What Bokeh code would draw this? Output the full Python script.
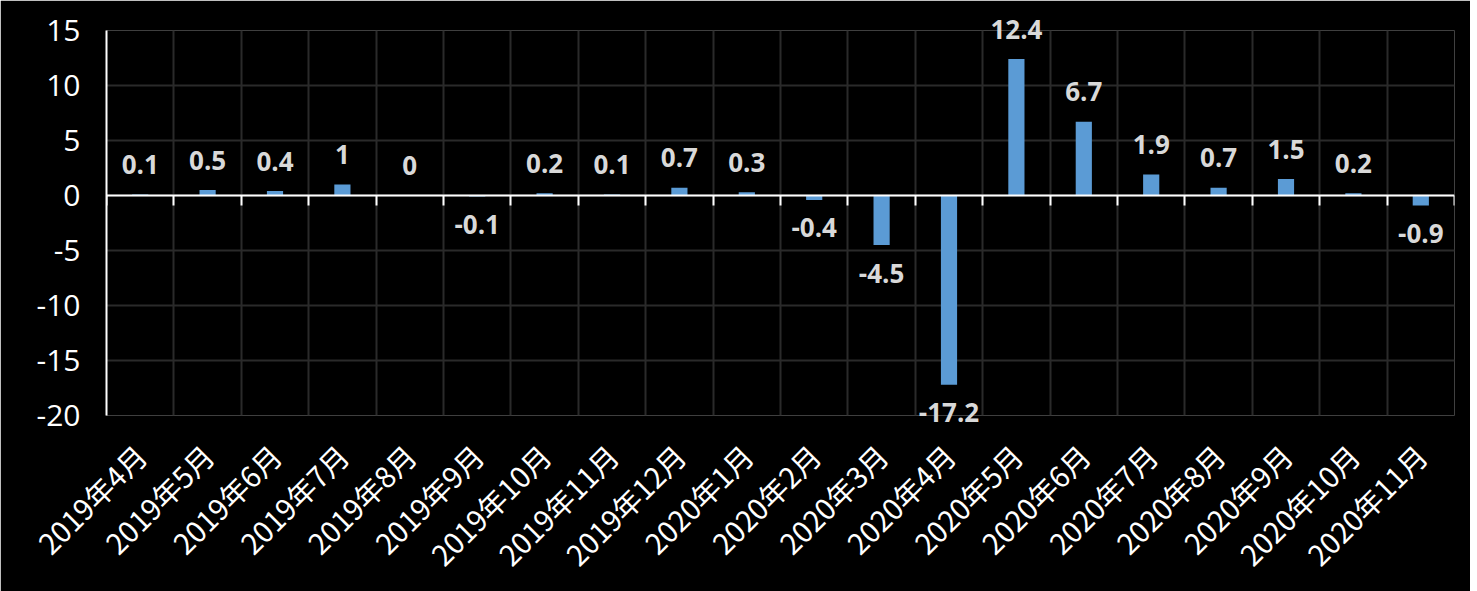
import numpy as np
from bokeh.plotting import figure
from bokeh.models import ColumnDataSource, Range1d, FixedTicker, LinearAxis, CustomJSTickFormatter
from bokeh.core.properties import value
from bokeh.embed import file_html
from bokeh.resources import INLINE

categories = ["2019年4月", "2019年5月", "2019年6月", "2019年7月", "2019年8月",
              "2019年9月", "2019年10月", "2019年11月", "2019年12月", "2020年1月",
              "2020年2月", "2020年3月", "2020年4月", "2020年5月", "2020年6月",
              "2020年7月", "2020年8月", "2020年9月", "2020年10月", "2020年11月"]
values = [0.1, 0.5, 0.4, 1, 0, -0.1, 0.2, 0.1, 0.7, 0.3,
          -0.4, -4.5, -17.2, 12.4, 6.7, 1.9, 0.7, 1.5, 0.2, -0.9]
y_ticks = [-20, -15, -10, -5, 0, 5, 10, 15]
y_tick_labels = ["-20", "-15", "-10", "-5", "0", "5", "10", "15"]

n = len(categories)
idx = list(range(n))
boundaries = [i - 0.5 for i in range(n + 1)]
labels = [f"{v:g}" for v in values]

p = figure(frame_width=1348, frame_height=385,
           x_range=Range1d(-0.5, n - 0.5), y_range=Range1d(min(y_ticks), max(y_ticks)),
           output_backend="svg", toolbar_location=None,
           min_border_left=106, min_border_right=16, min_border_top=30, min_border_bottom=168,
           background_fill_color="black", border_fill_color="black", outline_line_color=None)

# grids
p.xgrid.ticker = FixedTicker(ticks=boundaries)
p.ygrid.ticker = FixedTicker(ticks=y_ticks)
for g in (p.xgrid, p.ygrid):
    g.grid_line_color = "#2a2a2a"
    g.grid_line_width = 2

# bars
src = ColumnDataSource(dict(x=idx, top=values, text=labels))
p.vbar(x="x", top="top", bottom=0, width=0.24, source=src,
       fill_color="#5b9bd5", line_color=None)

# data labels
pos = [i for i, v in enumerate(values) if v >= 0]
neg = [i for i, v in enumerate(values) if v < 0]
src_pos = ColumnDataSource(dict(x=[idx[i] for i in pos], y=[values[i] for i in pos],
                                text=[labels[i] for i in pos]))
src_neg = ColumnDataSource(dict(x=[idx[i] for i in neg], y=[values[i] for i in neg],
                                text=[labels[i] for i in neg]))
common = dict(text="text", text_align="center", text_baseline="alphabetic",
              text_color="#d9d9d9", text_font=value("Open Sans"), text_font_style="bold",
              text_font_size="26px", level="overlay")
p.text(x="x", y="y", source=src_pos, y_offset=-30, **common)
p.text(x="x", y="y", source=src_neg, y_offset=28, **common)

# bottom category labels
xa = p.xaxis[0]
xa.ticker = FixedTicker(ticks=idx)
xa.major_label_overrides = {i: c for i, c in zip(idx, categories)}
xa.major_label_orientation = np.pi / 4
xa.axis_line_color = None
xa.major_tick_line_color = None
xa.minor_tick_line_color = None
xa.major_label_text_color = "white"
xa.major_label_text_font = "Noto Sans CJK SC"
xa.major_label_text_font_size = "29px"
xa.major_label_standoff = 28

# zero-line axis with ticks between categories
zero_axis = LinearAxis(fixed_location=0, ticker=FixedTicker(ticks=boundaries),
                       formatter=CustomJSTickFormatter(code="return ''"),
                       axis_line_color="white", axis_line_width=2,
                       major_tick_line_color="white", major_tick_line_width=2,
                       major_tick_out=10, major_tick_in=0,
                       minor_tick_line_color=None, major_label_text_font_size="0px")
p.add_layout(zero_axis, "below")

# y axis
ya = p.yaxis[0]
ya.ticker = FixedTicker(ticks=y_ticks)
ya.major_label_overrides = {t: l for t, l in zip(y_ticks, y_tick_labels)}
ya.axis_line_color = "white"
ya.axis_line_width = 2
ya.major_tick_line_color = None
ya.minor_tick_line_color = None
ya.major_label_text_color = "white"
ya.major_label_text_font = "Open Sans"
ya.major_label_text_font_size = "30px"
ya.major_label_standoff = 20

open("out.html", "w").write(file_html(p, INLINE))
